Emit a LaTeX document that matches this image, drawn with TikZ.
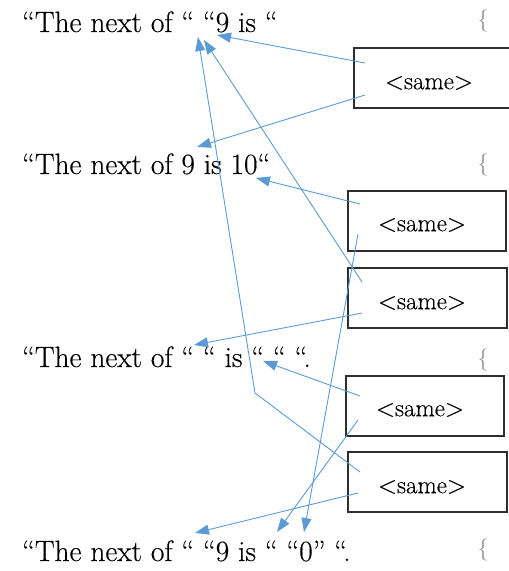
\documentclass[tikz,border=0pt]{standalone}
\usepackage{fontspec}
\newfontfamily\sentencefont[FakeBold=0.35]{Latin Modern Roman}
\usetikzlibrary{arrows.meta,calc}
\definecolor{linkblue}{HTML}{5B9BD5}
\definecolor{boxgray}{HTML}{2E2E2E}
\definecolor{bracegray}{HTML}{8A8A8A}
\begin{document}
\begin{tikzpicture}[x=1pt,y=-1pt,
  phrase/.style={anchor=base west, inner sep=0pt, font=\sentencefont\fontsize{29.4}{32}\selectfont},
  brace/.style={anchor=center, inner sep=0pt, text=bracegray, font=\fontsize{22}{26}\selectfont},
  samebox/.style={draw=boxgray, line width=1.6pt, minimum height=60pt, inner sep=0pt, anchor=north west},
  samelabel/.style={inner sep=0pt, font=\sentencefont\fontsize{25}{28}\selectfont},
  link/.style={draw=linkblue, line width=0.9pt, -{Triangle[length=14pt,width=10pt]}}
]
\useasboundingbox (0,0) rectangle (509,571);

% the four sentences
\node[phrase] (s1) at (22,32)  {“The next of “ “9 is “};
\node[phrase] (s2) at (22,174) {“The next of 9 is 10“};
\node[phrase] (s3) at (22,367) {“The next of “ “ is “ “ “.};
\node[phrase] (s4) at (22,561) {“The next of “ “9 is “ “0” “.};

% opening braces on the right
\node[brace] (br1) at (483,21)  {\{};
\node[brace] (br2) at (483,165) {\{};
\node[brace] (br3) at (483,360) {\{};
\node[brace] (br4) at (483,550) {\{};

% the <same> boxes
\node[samebox, minimum width=162pt] (b1) at (353,47)  {};
\node[samebox, minimum width=158pt] (b2) at (347,190) {};
\node[samebox, minimum width=159pt] (b3) at (347,267) {};
\node[samebox, minimum width=158pt] (b4) at (345,375) {};
\node[samebox, minimum width=159pt] (b5) at (347,451) {};

\node[samelabel] (l1) at (429,83)  {<same>};
\node[samelabel] (l2) at (422,225) {<same>};
\node[samelabel] (l3) at (422,303) {<same>};
\node[samelabel] (l4) at (420,410) {<same>};
\node[samelabel] (l5) at (422,487) {<same>};

% start points of the links inside the boxes
\coordinate (p1a) at (365,63);
\coordinate (p1b) at (365,95);
\coordinate (p2a) at (360,204);
\coordinate (p2b) at (358,234);
\coordinate (p3a) at (362,282);
\coordinate (p3b) at (362,313);
\coordinate (p4a) at (360,396);
\coordinate (p4b) at (358,420);
\coordinate (p5a) at (360,472);
\coordinate (p5b) at (358,493);
\coordinate (bend) at (255,393);

% targets inside the sentences
\coordinate (t1a) at (217,35);
\coordinate (t1b) at (204,40);
\coordinate (t1c) at (198,37);
\coordinate (t2a) at (197,147);
\coordinate (t2b) at (256,178);
\coordinate (t3a) at (194,345);
\coordinate (t3b) at (263,361);
\coordinate (t4a) at (195,533);
\coordinate (t4b) at (277,532);
\coordinate (t4c) at (304,532);

% links
\draw[link] (p1a) -- (t1a);
\draw[link] (p1b) -- (t2a);
\draw[link] (p2a) -- (t2b);
\draw[link] (p2b) -- (t4c);
\draw[link] (p3a) -- (t1b);
\draw[link] (p3b) -- (t3a);
\draw[link] (p4a) -- (t3b);
\draw[link] (p4b) -- (t4b);
\draw[link] (p5a) -- (bend) -- (t1c);
\draw[link] (p5b) -- (t4a);
\end{tikzpicture}
\end{document}
